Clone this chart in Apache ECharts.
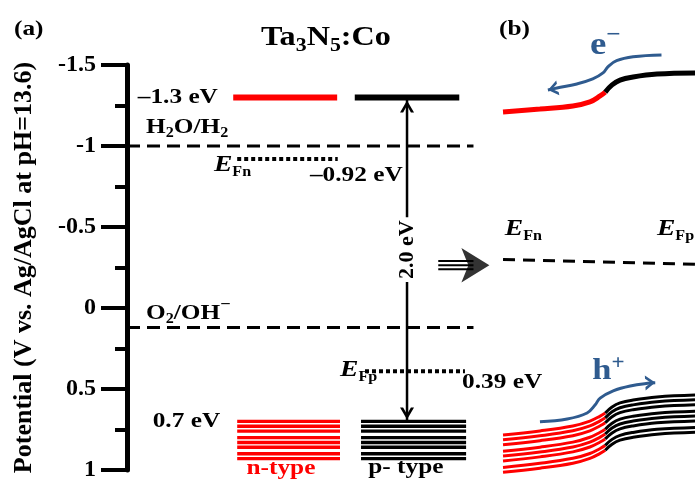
<!DOCTYPE html>
<html>
<head>
<meta charset="utf-8">
<script src="https://cdn.jsdelivr.net/npm/echarts@6/dist/echarts.min.js"></script>
<style>
  html, body { margin: 0; padding: 0; background: #fff; }
  #chart { width: 695px; height: 486px; }
</style>
</head>
<body>
<div id="chart"></div>
<script>
// ---- Band positions of Ta3N5:Co (V vs. Ag/AgCl, pH 13.6) ----
const conductionBand = -1.3;
const valenceBand = 0.7;
const fermiN = -0.92;
const fermiP = 0.39;
const redoxLevels = [-1.0, 0.12];            // H2O/H2, O2/OH-
const valenceStripes = [0.70, 0.73, 0.76, 0.80, 0.83, 0.86, 0.90, 0.93];
const yTicks = [-1.5, -1, -0.5, 0, 0.5, 1];
const typeNames = ['n-type', 'p- type'];

// ---- n/p homojunction band profiles (panel b) ----
const cbJunctionN = [[66.2, -1.210], [72.7, -1.228], [78.5, -1.247], [81.5, -1.272], [83.3, -1.309], [84.2, -1.333]];
const cbJunctionP = [[84.2, -1.333], [85.4, -1.377], [86.8, -1.407], [89.1, -1.426], [93.3, -1.444], [100, -1.451]];
const vbJunctionN = [[66.2, 0.784], [72.7, 0.759], [78.5, 0.728], [81.5, 0.698], [83.3, 0.667], [84.2, 0.648]];
const vbJunctionP = [[84.2, 0.648], [85.4, 0.611], [86.8, 0.586], [89.1, 0.568], [93.3, 0.549], [100, 0.537]];
const fermiJunction = [[66.2, -0.30], [100, -0.27]];
const electronPath = [[94.1, -1.562], [89.1, -1.551], [86.2, -1.527], [84.7, -1.490], [83.8, -1.451], [82.0, -1.414], [79.2, -1.383], [75.7, -1.358], [74.1, -1.346]];
const holePath = [[72.7, 0.702], [77.5, 0.685], [81.0, 0.648], [82.4, 0.599], [83.3, 0.556], [85.6, 0.511], [88.6, 0.481], [92.1, 0.463], [93.0, 0.461]];
const transferArrowRows = [-0.290, -0.264, -0.239];

// ---- layout (x in axis units 0..100) ----
const COL = {
  nBand: [18.7, 37.0], pBand: [40.1, 58.5],
  nStripe: [19.4, 37.5], pStripe: [41.2, 59.7],
  nFermi: [19.4, 37.1], pFermi: [41.9, 59.5],
  redox: [0, 61.0], gapArrow: 49.3,
  transfer: [54.8, 61.0], transferHead: 63.8
};
const RED = '#ff0000';
const BLUE = '#2f5b8f';
const SERIF = '"Liberation Serif", "Times New Roman", serif';
const STRETCH = 1.15;
const CHEVRON = 'path://M0,0L14,9L0,18L0,14L8,9L0,4Z';

const series = [];
function addLine(data, color, width, extra) {
  series.push(Object.assign({
    type: 'line', data: data, symbol: 'none', silent: true, clip: false,
    lineStyle: { color: color, width: width, cap: 'butt' }
  }, extra || {}));
}
function dashed(data, width, dash) {
  addLine(data, '#000', width, { lineStyle: { color: '#000', width: width, type: dash, cap: 'butt' } });
}

// panel (a): redox potentials
redoxLevels.forEach(v => dashed([[COL.redox[0], v], [COL.redox[1], v]], 3, [13, 7]));
// conduction band edges
addLine([[COL.nBand[0], conductionBand], [COL.nBand[1], conductionBand]], RED, 6);
addLine([[COL.pBand[0], conductionBand], [COL.pBand[1], conductionBand]], '#000', 6);
// valence band (filled states)
valenceStripes.forEach(v => {
  addLine([[COL.nStripe[0], v], [COL.nStripe[1], v]], RED, 3.4);
  addLine([[COL.pStripe[0], v], [COL.pStripe[1], v]], '#000', 3.4);
});
// quasi Fermi levels
dashed([[COL.nFermi[0], fermiN], [COL.nFermi[1], fermiN]], 4, [4, 3]);
dashed([[COL.pFermi[0], fermiP], [COL.pFermi[1], fermiP]], 4, [4, 3]);
// band-gap arrow
addLine([
  { value: [COL.gapArrow, conductionBand], symbol: CHEVRON, symbolSize: [12, 14], symbolRotate: 90, symbolOffset: [0, 9] },
  { value: [COL.gapArrow, valenceBand], symbol: CHEVRON, symbolSize: [12, 14], symbolRotate: -90, symbolOffset: [0, -8] }
], '#000', 2.5, { showSymbol: true, showAllSymbol: true, itemStyle: { color: '#000' } });

// transfer arrow between panels
transferArrowRows.forEach(v => addLine([[COL.transfer[0], v], [COL.transfer[1], v]], '#000', 2));
series.push({
  type: 'scatter', silent: true, clip: false,
  data: [[COL.transferHead, transferArrowRows[1]]],
  symbol: 'arrow', symbolSize: [26, 28], symbolRotate: -90,
  itemStyle: { color: '#000' }
});

// panel (b): bent bands
addLine(cbJunctionN, RED, 5, { smooth: 0.4 });
addLine(cbJunctionP, '#000', 5, { smooth: 0.4 });
valenceStripes.forEach(v => {
  const off = v - valenceStripes[0];
  addLine(vbJunctionN.map(p => [p[0], p[1] + off]), RED, 3, { smooth: 0.4 });
  addLine(vbJunctionP.map(p => [p[0], p[1] + off]), '#000', 3, { smooth: 0.4 });
});
dashed(fermiJunction, 3, [12, 8]);

function arrowPath(points, rotate, offset) {
  return points.map((p, i) => i === points.length - 1
    ? { value: p, symbol: CHEVRON, symbolSize: [10, 15], symbolRotate: rotate, symbolOffset: offset }
    : { value: p });
}
addLine(arrowPath(electronPath, 192, [5, -1]), BLUE, 3, { smooth: 0.4, showSymbol: true, showAllSymbol: true, itemStyle: { color: BLUE } });
addLine(arrowPath(holePath, 3, [-5, 0]), BLUE, 3, { smooth: 0.4, showSymbol: true, showAllSymbol: true, itemStyle: { color: BLUE } });

const option = {
  animation: false,
  backgroundColor: '#fff',
  grid: { left: 127, right: 0, top: 65, bottom: 16, containLabel: false },
  xAxis: { type: 'value', min: 0, max: 100, show: false },
  yAxis: {
    type: 'value', inverse: true, min: -1.5, max: 1, interval: 0.5,
    name: 'Potential (V vs. Ag/AgCl at pH=13.6)',
    nameLocation: 'middle', nameGap: 90,
    nameTextStyle: { fontSize: 26, fontWeight: 'bold', fontFamily: SERIF, color: '#000' },
    axisLine: { show: true, lineStyle: { color: '#000', width: 5 } },
    axisTick: { show: true, inside: false, length: 26, lineStyle: { color: '#000', width: 4 } },
    minorTick: { show: true, splitNumber: 2, length: 12, lineStyle: { color: '#000', width: 4 } },
    splitLine: { show: false },
    axisLabel: {
      margin: 31, fontSize: 24, fontWeight: 'bold', fontFamily: SERIF, color: '#000',
      formatter: v => { const t = yTicks.find(k => Math.abs(k - v) < 1e-9); return t === undefined ? '' : String(t); }
    }
  },
  series: series
};

const chart = echarts.init(document.getElementById('chart'));
chart.setOption(option);

// ---- text annotations ----
const toPx = p => chart.convertToPixel({ xAxisIndex: 0, yAxisIndex: 0 }, p);
function txt(x, y, text, rich, align, extra) {
  return Object.assign({
    type: 'text', x: x, y: y, scaleX: STRETCH, z: 100, silent: true,
    style: {
      text: text, rich: rich, align: align, verticalAlign: 'middle',
      fill: '#000', fontSize: 22, fontWeight: 'bold', fontFamily: SERIF
    }
  }, extra || {});
}
function at(p, text, rich, align, extra) {
  const q = toPx(p);
  return txt(q[0], q[1], text, rich, align, extra);
}
const R = {
  m: { fontSize: 22, fontWeight: 'bold', fontFamily: SERIF },
  s: { fontSize: 14, fontWeight: 'bold', fontFamily: SERIF, padding: [13, 0, 0, 0] },
  u: { fontSize: 16, fontWeight: 'bold', fontFamily: SERIF, padding: [0, 0, 16, 0] },
  e: { fontSize: 24, fontWeight: 'bold', fontStyle: 'italic', fontFamily: SERIF },
  f: { fontSize: 14, fontWeight: 'bold', fontFamily: SERIF, padding: [15, 0, 0, 0] }
};
const ev = v => (v < 0 ? '\u2013' : '') + Math.abs(v) + ' eV';
const cbText = (v) => (v < 0 ? '\u2013' : '') + Math.abs(v).toFixed(1) + ' eV';
const gapText = (valenceBand - conductionBand).toFixed(1) + ' eV';

const texts = [
  txt(14, 29, '(a)', null, 'left'),
  txt(499, 29, '(b)', null, 'left'),
  txt(326, 38, '{m|Ta}{s|3}{m|N}{s|5}{m|:Co}', {
    m: { fontSize: 28, fontWeight: 'bold', fontFamily: SERIF },
    s: { fontSize: 19, fontWeight: 'bold', fontFamily: SERIF, padding: [16, 0, 0, 0] }
  }, 'center'),
  at([16.0, conductionBand], cbText(conductionBand), null, 'right'),
  at([3.35, -1.117], '{m|H}{s|2}{m|O/H}{s|2}', R, 'left'),
  at([3.35, 0.031], '{m|O}{s|2}{m|/OH}{u|\u2212}', R, 'left'),
  at([15.3, -0.884], '{e|E}{f|Fn}', R, 'left'),
  at([32.2, -0.821], ev(fermiN), null, 'left'),
  at([37.5, 0.383], '{e|E}{f|Fp}', R, 'left'),
  at([59.0, 0.457], ev(fermiP), null, 'left'),
  at([16.4, valenceBand], valenceBand + ' eV', null, 'right'),
  at([27.1, 0.988], typeNames[0], null, 'center'),
  at([49.1, 0.981], typeNames[1], null, 'center'),
  at([66.5, -0.488], '{e|E}{f|Fn}', R, 'left'),
  at([93.3, -0.488], '{e|E}{f|Fp}', R, 'left'),
  at([81.5, -1.617], '{e|e}{u|\u2212}', {
    e: { fontSize: 32, fontWeight: 'bold', fontFamily: SERIF, fill: BLUE },
    u: { fontSize: 22, fontWeight: 'bold', fontFamily: SERIF, fill: BLUE, padding: [0, 0, 22, 0] }
  }, 'left'),
  at([81.9, 0.389], '{e|h}{u|+}', {
    e: { fontSize: 30, fontWeight: 'bold', fontFamily: SERIF, fill: BLUE },
    u: { fontSize: 20, fontWeight: 'bold', fontFamily: SERIF, fill: BLUE, padding: [0, 0, 14, 0] }
  }, 'left')
];
// colour of the n-type caption
texts[11].style.fill = RED;
// rotated band-gap label over the arrow
const g = toPx([COL.gapArrow, -0.36]);
texts.push({
  type: 'text', x: g[0], y: g[1], rotation: Math.PI / 2, z: 100, silent: true,
  style: {
    text: gapText, align: 'center', verticalAlign: 'middle', fill: '#000',
    fontSize: 22, fontWeight: 'bold', fontFamily: SERIF,
    backgroundColor: '#fff', padding: [0, 3, 0, 3]
  }
});

chart.setOption({ graphic: { elements: texts } });
</script>
</body>
</html>
